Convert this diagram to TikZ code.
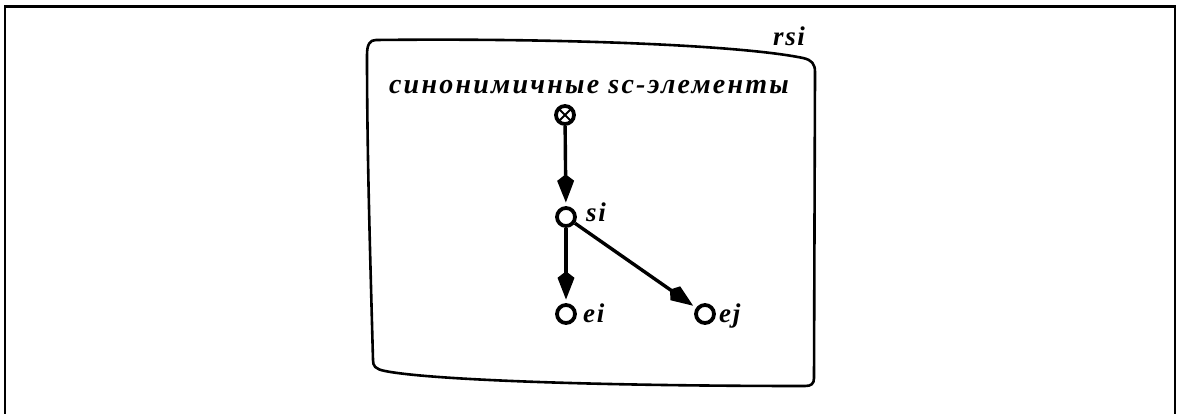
\documentclass[tikz,border=0pt]{standalone}
\usepackage{fontspec}
\setmainfont{Liberation Serif}
\newfontfamily\titlefont[LetterSpace=8]{Liberation Serif}
\newfontfamily\lblfont[LetterSpace=6]{Liberation Serif}
\usetikzlibrary{arrows.meta}
\begin{document}
\begin{tikzpicture}[x=1pt,y=-1pt,
  circ/.style={circle,draw,line width=3.8pt,minimum size=18pt,inner sep=0pt,fill=white},
  cross/.style={circ,path picture={\draw[line width=1.8pt]
      (path picture bounding box.north west)--(path picture bounding box.south east)
      (path picture bounding box.north east)--(path picture bounding box.south west);}},
  arr/.style={line width=3.4pt,-{Stealth[length=22pt,width=15pt,inset=-7pt]},shorten >=3pt},
  lbl/.style={font=\lblfont\fontsize{27}{27}\selectfont\bfseries\itshape,inner sep=0pt,anchor=base west}]
\useasboundingbox (0,0) rectangle (1177,414);
\begin{scope}
\clip (0,0) rectangle (1177,414);
\draw[line width=2.2pt] (5,430) -- (5,6.5) -- (1175,6.5) -- (1175,430);
\end{scope}
% blob
\draw[line width=2.6pt]
 (376,40) .. controls (560,38) and (740,45) .. (803,58)
 .. controls (812,60) and (815,64) .. (815,72)
 -- (814,378)
 .. controls (814,384) and (811,386) .. (805,386)
 .. controls (600,386) and (430,380) .. (385,371)
 .. controls (375,369) and (373,366) .. (373,360)
 .. controls (370,250) and (367,150) .. (367,55)
 .. controls (367,44) and (370,40) .. (376,40) -- cycle;
\node[lbl] (rsi) at (773,46) {rsi};
\node[font=\titlefont\fontsize{28}{28}\selectfont\bfseries\itshape,inner sep=0pt,anchor=base] (title) at (589,94) {синонимичные sc-элементы};
\node[cross] (s) at (565,115) {};
\node[circ] (si) at (566,217) {};
\node[circ] (ei) at (566,314) {};
\node[circ] (ej) at (705,314) {};
\node[lbl] (lsi) at (586,222) {si};
\node[lbl] (lei) at (583,322) {ei};
\node[lbl] (lej) at (719,322) {ej};
\draw[arr] (s) -- (si);
\draw[arr] (si) -- (ei);
\draw[arr] (si) -- (ej);
\end{tikzpicture}
\end{document}
